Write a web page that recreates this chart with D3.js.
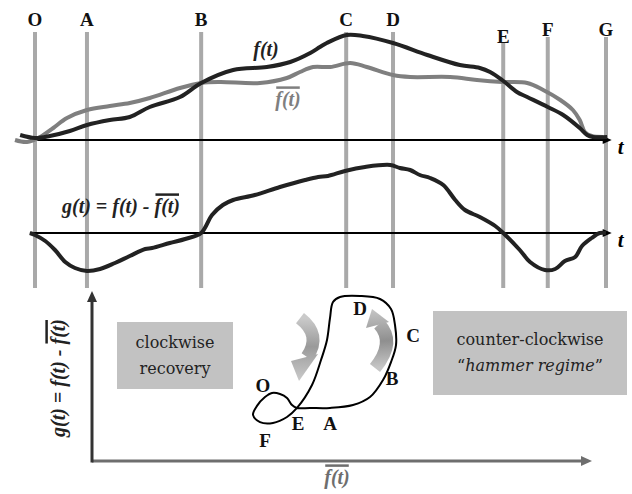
<!DOCTYPE html>
<html>
<head>
<meta charset="utf-8">
<script src="https://cdn.jsdelivr.net/npm/d3@7"></script>
<style>
  body { margin: 0; background: #fff; }
  svg { display: block; }
</style>
</head>
<body>
<svg id="chart" width="632" height="494"></svg>
<script>
// event markers along t
const eventNames = ['O', 'A', 'B', 'C', 'D', 'E', 'F', 'G'];
const eventTimes = [0, 9.1, 29.1, 54.5, 62.7, 82.0, 89.8, 100];

// f(t) (black curve, top panel)
const fTime  = [-2.6, 0, 2.6, 6.1, 9.1, 13.1, 16.6, 20.1, 25.4, 29.1, 34.7, 40.6, 44.7, 48.2, 49.9, 51.1, 54.6, 57.4, 62.7, 68.7, 74.4, 77.9, 79.7, 81.8, 84.4, 86.2, 89.8, 92.5, 95.4, 96.7, 97.7, 100.2];
const fValue = [5, 2, 4, 9, 15, 20, 23, 33, 43, 57, 70, 73, 78, 87, 93, 97, 105, 104, 97, 85, 75, 72, 68, 60, 48, 43, 33, 25, 12, 5, 3, 3];

// moving average of f (grey curve, top panel)
const fbarTime  = [-3.5, -1.4, 0.9, 3.2, 5.6, 9.1, 13.1, 16.6, 20.1, 25.4, 29.1, 32.4, 39.4, 44.1, 46.4, 48.7, 51.7, 55.2, 58.1, 62.7, 65.7, 72.7, 77.4, 81.8, 86.2, 89.0, 92.0, 94.2, 95.4, 96.3, 97.5, 99.5];
const fbarValue = [0, -2, 3, 12, 22, 30, 34, 37, 42, 52, 57, 58, 57, 62, 68, 73, 73, 77, 73, 65, 63, 63, 60, 58, 57, 50, 40, 30, 20, 8, 4, 3];

// g(t) = f(t) - fbar(t) (lower panel)
const gTime  = [-0.9, 0, 1.8, 3.5, 5.3, 7.0, 9.1, 11.4, 14.0, 16.6, 19.3, 20.5, 23.6, 26.3, 29.1, 31.0, 32.9, 34.7, 38.5, 42.9, 47.3, 49.6, 51.3, 54.3, 57.8, 62.2, 63.9, 65.7, 67.4, 69.2, 71.5, 73.6, 75.3, 77.9, 80.6, 82.0, 84.9, 86.7, 89.3, 91.1, 92.8, 94.6, 95.8, 97.5, 98.9, 100];
const gValue = [0, -2, -8, -17, -29, -35, -38, -36, -30, -23, -16, -15, -10, -6, 0, 18, 28, 33, 38, 46, 53, 56, 57, 62, 66, 68, 65, 63, 58, 55, 48, 33, 23, 16, 7, 0, -17, -29, -37, -36, -28, -24, -13, -5, 0, 0];

// phase portrait: fbar on x, g on y
const loopX = [36, 37.6, 39, 40, 41, 43.6, 47.6, 52.2, 55.6, 58.2, 59.8, 60.8, 60.6, 59.8, 57.6, 53.6, 49.6, 48.2, 47.6, 47, 45.8, 44, 41, 39, 36.2, 33.6, 32.2, 33, 34.6];
const loopY = [40, 39.4, 37.1, 32.9, 31.2, 31.2, 31.2, 32.9, 37.6, 47.6, 58.2, 68.2, 80, 89.4, 95.3, 97.1, 96.5, 93.5, 84.1, 71.2, 59.4, 44.7, 31.2, 25.9, 22.4, 22.9, 27.1, 32.4, 37.6];
const loopLabels = ['O', 'A', 'B', 'C', 'D', 'E', 'F'];
const loopLabelX = [34.2, 47.6, 60, 64.2, 53.6, 41.2, 34.6];
const loopLabelY = [44.7, 22.4, 48.8, 74.1, 90, 22.4, 12.4];

const boxLines = [['clockwise', 'recovery'], ['counter-clockwise', '\u201Chammer regime\u201D']];

const svg = d3.select('#chart');
const serif = '"Liberation Serif", "Times New Roman", serif';

const x = d3.scaleLinear().domain([0, 100]).range([35, 606]);
const yTop = d3.scaleLinear().domain([0, 100]).range([140, 40]);
const yLow = d3.scaleLinear().domain([0, 100]).range([233, 133]);
const px = d3.scaleLinear().domain([0, 100]).range([92, 592]);
const py = d3.scaleLinear().domain([0, 100]).range([461, 291]);

const defs = svg.append('defs');

// --- vertical event lines + labels
const labelRow = {E: 36, F: 29, G: 29};
const lineTop = {E: 43, F: 37, G: 37};
const events = eventNames.map((n, i) => ({name: n, t: eventTimes[i], ly: labelRow[n] || 19, top: lineTop[n] || 32}));

svg.selectAll('.event-line')
    .data(events)
    .join('line')
    .attr('class', 'event-line')
    .attr('x1', d => x(d.t)).attr('x2', d => x(d.t))
    .attr('y1', d => d.top).attr('y2', 288)
    .attr('stroke', '#a9a9a9')
    .attr('stroke-width', 4);

svg.selectAll('.event-label')
    .data(events)
    .join('text')
    .attr('class', 'event-label')
    .attr('x', d => x(d.t))
    .attr('y', d => d.ly)
    .attr('dy', '0.35em')
    .attr('text-anchor', 'middle')
    .style('font-family', serif)
    .style('font-weight', 'bold')
    .style('font-size', '19px')
    .attr('fill', '#111')
    .text(d => d.name);

// --- time axes
function timeAxis(yPos) {
    let x0 = x(-0.9), x1 = x(101);
    svg.append('line')
        .attr('x1', x0).attr('x2', x1 - 6)
        .attr('y1', yPos).attr('y2', yPos)
        .attr('stroke', '#000').attr('stroke-width', 2);
    svg.append('path')
        .attr('d', `M${x1},${yPos}L${x1 - 9},${yPos - 4}L${x1 - 9},${yPos + 4}Z`)
        .attr('fill', '#000');
    svg.append('text')
        .attr('x', x1 + 9).attr('y', yPos + 14)
        .attr('text-anchor', 'middle')
        .style('font-family', serif).style('font-style', 'italic').style('font-weight', 'bold')
        .style('font-size', '21px')
        .text('t');
}
timeAxis(yTop(0));
timeAxis(yLow(0));

// --- curves
const topLine = d3.line().x(d => x(d[0])).y(d => yTop(d[1])).curve(d3.curveCatmullRom);
const lowLine = d3.line().x(d => x(d[0])).y(d => yLow(d[1])).curve(d3.curveCatmullRom);

svg.append('path')
    .datum(fbarTime.map((t, i) => [t, fbarValue[i]]))
    .attr('d', topLine)
    .attr('fill', 'none').attr('stroke', '#7f7f7f').attr('stroke-width', 4)
    .attr('stroke-linejoin', 'round');

svg.append('path')
    .datum(fTime.map((t, i) => [t, fValue[i]]))
    .attr('d', topLine)
    .attr('fill', 'none').attr('stroke', '#222').attr('stroke-width', 4)
    .attr('stroke-linejoin', 'round');

svg.append('path')
    .datum(gTime.map((t, i) => [t, gValue[i]]))
    .attr('d', lowLine)
    .attr('fill', 'none').attr('stroke', '#222').attr('stroke-width', 4)
    .attr('stroke-linejoin', 'round');

// --- label with optional overline segments
function overLabel(parent, parts, opts) {
    let g = parent.append('g').attr('transform', opts.transform);
    let text = g.append('text')
        .attr('text-anchor', opts.anchor || 'middle')
        .style('font-family', serif).style('font-style', 'italic').style('font-weight', 'bold')
        .style('font-size', opts.size + 'px')
        .attr('fill', opts.color);
    let idx = 0;
    let spans = [];
    parts.forEach(p => {
        text.append('tspan').text(p.s);
        if (p.over) spans.push([idx, idx + p.s.length - 1]);
        idx += p.s.length;
    });
    let node = text.node();
    spans.forEach(([a, b]) => {
        let s = node.getStartPositionOfChar(a).x;
        let e = node.getEndPositionOfChar(b).x;
        g.append('line')
            .attr('x1', s + 1).attr('x2', e - 1)
            .attr('y1', -opts.size * 0.92).attr('y2', -opts.size * 0.92)
            .attr('stroke', opts.color).attr('stroke-width', 2.5);
    });
    return g;
}

overLabel(svg, [{s: 'f(t)'}], {transform: 'translate(266,56)', size: 20, color: '#222'});
overLabel(svg, [{s: 'f(t)', over: true}], {transform: 'translate(288,106)', size: 20, color: '#7f7f7f'});
overLabel(svg, [{s: 'g(t) = f(t) - '}, {s: 'f(t)', over: true}],
    {transform: 'translate(121,213)', size: 20, color: '#222'});

// --- phase portrait axes
const axisGrey = '#6e6e6e';
svg.append('line')
    .attr('x1', px(0)).attr('x2', px(100) - 8)
    .attr('y1', py(0)).attr('y2', py(0))
    .attr('stroke', axisGrey).attr('stroke-width', 3);
svg.append('path')
    .attr('d', `M${px(100)},${py(0)}L${px(100) - 11},${py(0) - 5}L${px(100) - 11},${py(0) + 5}Z`)
    .attr('fill', axisGrey);
svg.append('line')
    .attr('x1', px(0)).attr('x2', px(0))
    .attr('y1', py(0) + 1.5).attr('y2', py(100) + 8)
    .attr('stroke', '#333').attr('stroke-width', 3);
svg.append('path')
    .attr('d', `M${px(0)},${py(100)}L${px(0) - 5},${py(100) + 11}L${px(0) + 5},${py(100) + 11}Z`)
    .attr('fill', '#333');

overLabel(svg, [{s: 'f(t)', over: true}], {transform: `translate(${px(49)},484)`, size: 20, color: axisGrey});
overLabel(svg, [{s: 'g(t) = f(t) - '}, {s: 'f(t)', over: true}],
    {transform: 'translate(65,378) rotate(-90)', size: 20, color: '#222'});

// --- boxes
const boxes = [
    {x: 117, y: 322, w: 116, h: 67, lines: boxLines[0]},
    {x: 433, y: 311, w: 194, h: 84, lines: boxLines[1]}
];
boxes.forEach((b, bi) => {
    svg.append('rect')
        .attr('x', b.x).attr('y', b.y).attr('width', b.w).attr('height', b.h)
        .attr('fill', '#c2c2c2');
    b.lines.forEach((ln, li) => {
        let t = svg.append('text')
            .attr('x', b.x + b.w / 2)
            .attr('y', b.y + b.h / 2 - 8 + li * 26)
            .attr('text-anchor', 'middle')
            .style('font-family', '"DejaVu Serif", serif')
            .style('font-size', '16px')
            .attr('fill', '#222');
        if (bi === 1 && li === 1) {
            t.append('tspan').text('\u201C');
            t.append('tspan').style('font-style', 'italic').text('hammer regime');
            t.append('tspan').text('\u201D');
        } else {
            t.text(ln);
        }
    });
});

// --- curved direction arrows
function bendArrow(id, start, ctrl, end, base1, base2, tip, dark, light) {
    let grad = defs.append('linearGradient').attr('id', id)
        .attr('gradientUnits', 'userSpaceOnUse')
        .attr('x1', px(start[0])).attr('y1', py(start[1]))
        .attr('x2', px(tip[0])).attr('y2', py(tip[1]));
    grad.append('stop').attr('offset', '0%').attr('stop-color', light);
    grad.append('stop').attr('offset', '45%').attr('stop-color', dark);
    grad.append('stop').attr('offset', '100%').attr('stop-color', light);
    let p = d3.path();
    p.moveTo(px(start[0]), py(start[1]));
    p.quadraticCurveTo(px(ctrl[0]), py(ctrl[1]), px(end[0]), py(end[1]));
    svg.append('path').attr('d', p.toString())
        .attr('fill', 'none').attr('stroke', `url(#${id})`).attr('stroke-width', 13);
    svg.append('path')
        .attr('d', `M${px(base1[0])},${py(base1[1])}L${px(tip[0])},${py(tip[1])}L${px(base2[0])},${py(base2[1])}Z`)
        .attr('fill', `url(#${id})`);
}
bendArrow('arrL', [41.6, 84.1], [46, 74.1], [43, 61.2], [39.8, 58.8], [45.2, 62.9], [41.4, 47.1], '#9a9a9a', '#cacaca');
bendArrow('arrR', [56.6, 54.7], [60.8, 70], [57.4, 80.6], [54.8, 78.2], [59.4, 81.8], [56, 89.4], '#8f8f8f', '#c6c6c6');

// --- loop
const loopLine = d3.line().x(d => px(d[0])).y(d => py(d[1])).curve(d3.curveCatmullRomClosed);
svg.append('path')
    .datum(loopX.map((v, i) => [v, loopY[i]]))
    .attr('d', loopLine)
    .attr('fill', 'none').attr('stroke', '#000').attr('stroke-width', 2);

svg.selectAll('.loop-label')
    .data(loopLabels)
    .join('text')
    .attr('class', 'loop-label')
    .attr('x', (d, i) => px(loopLabelX[i]))
    .attr('y', (d, i) => py(loopLabelY[i]))
    .attr('dy', '0.35em')
    .attr('text-anchor', 'middle')
    .style('font-family', serif).style('font-weight', 'bold').style('font-size', '19px')
    .attr('fill', '#111')
    .text(d => d);
</script>
</body>
</html>
